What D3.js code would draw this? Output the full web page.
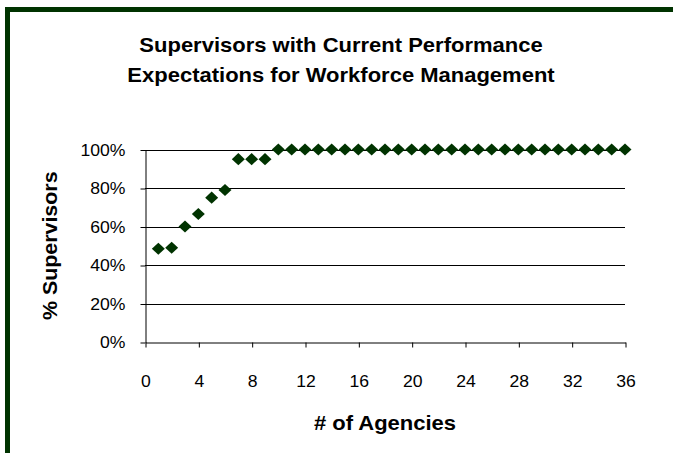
<!DOCTYPE html>
<html>
<head>
<meta charset="utf-8">
<script src="https://cdn.jsdelivr.net/npm/d3@7"></script>
<style>
  body { margin: 0; background: #fff; }
  svg { display: block; font-family: "Liberation Sans", Arial, sans-serif; }
</style>
</head>
<body>
<div id="chart"></div>
<script>
const agencies = d3.range(1, 37);
const pctSupervisors = [
    48.5, 49, 60, 66.5, 75, 79, 95, 95, 95,
    100, 100, 100, 100, 100, 100, 100, 100, 100,
    100, 100, 100, 100, 100, 100, 100, 100, 100,
    100, 100, 100, 100, 100, 100, 100, 100, 100
];
const xTicks = [0, 4, 8, 12, 16, 20, 24, 28, 32, 36];
const yTicks = [0, 20, 40, 60, 80, 100];
const titleLines = ["Supervisors with Current Performance", "Expectations for Workforce Management"];

const width = 673;
const height = 453;
const margin = ({top: 149.5, right: 48, bottom: 111, left: 145});
const green = "#003300";
// the reference text is a little wider than plain Arial
const stretch = 1.1;

const data = agencies.map((a, i) => ({x: a, y: pctSupervisors[i]}));

const x = d3.scaleLinear()
    .domain([0, 36])
    .range([margin.left, width - margin.right]);

const y = d3.scaleLinear()
    .domain([0, 100])
    .range([height - margin.bottom, margin.top]);

const svg = d3.select("#chart").append("svg")
    .attr("width", width)
    .attr("height", height);

// frame (right and bottom edges fall outside the window)
svg.append("rect")
    .attr("x", 7.5)
    .attr("y", 9.5)
    .attr("width", width + 20)
    .attr("height", height + 20)
    .attr("fill", "none")
    .attr("stroke", green)
    .attr("stroke-width", 5);

svg.append("g")
    .selectAll("text")
    .data(titleLines)
    .join("text")
    .attr("transform", (d, i) => `translate(341,${52 + i * 29.5}) scale(${stretch},1)`)
    .attr("text-anchor", "middle")
    .attr("font-size", 20)
    .attr("font-weight", "bold")
    .text(d => d);

// gridlines
svg.append("g")
    .selectAll("line")
    .data(yTicks.filter(d => d > 0))
    .join("line")
    .attr("x1", x(0))
    .attr("x2", x(36))
    .attr("y1", d => Math.round(y(d)) + 0.5)
    .attr("y2", d => Math.round(y(d)) + 0.5)
    .attr("stroke", "#000");

const yAxis = g => g
    .attr("transform", `translate(${x(0) + 0.5},${Math.round(y(0)) - y(0) + 0.5})`)
    .call(d3.axisLeft(y).tickValues(yTicks)
        .tickFormat(d => d + "%")
        .tickSize(5)
        .tickPadding(15)
        .tickSizeOuter(0))
    .call(g => g.selectAll("text")
        .attr("font-size", 16)
        .attr("fill", "#000")
        .attr("transform", function () {
            return `translate(${this.getAttribute("x")},0) scale(${stretch},1)`;
        })
        .attr("x", 0));

const xAxis = g => g
    .attr("transform", `translate(0.5,${Math.round(y(0)) + 0.5})`)
    .call(d3.axisBottom(x).tickValues(xTicks)
        .tickSize(5)
        .tickPadding(28)
        .tickSizeOuter(0))
    .call(g => g.selectAll("text")
        .attr("font-size", 16)
        .attr("fill", "#000")
        .attr("transform", `scale(${stretch},1)`));

svg.append("g").call(yAxis).attr("font-family", null);
svg.append("g").call(xAxis).attr("font-family", null);

svg.append("text")
    .attr("transform", `translate(${(x(0) + x(36)) / 2},430) scale(${stretch},1)`)
    .attr("text-anchor", "middle")
    .attr("font-size", 20)
    .attr("font-weight", "bold")
    .text("# of Agencies");

svg.append("text")
    .attr("transform", `translate(57,${(y(0) + y(100)) / 2}) rotate(-90) scale(1.07,1)`)
    .attr("text-anchor", "middle")
    .attr("font-size", 20)
    .attr("font-weight", "bold")
    .text("% Supervisors");

const diamond = d3.symbol().type(d3.symbolDiamond2).size(92);

svg.append("g")
    .attr("fill", green)
    .selectAll("path")
    .data(data)
    .join("path")
    .attr("transform", d => `translate(${x(d.x)},${y(d.y)}) scale(1.08,1)`)
    .attr("d", diamond);
</script>
</body>
</html>
